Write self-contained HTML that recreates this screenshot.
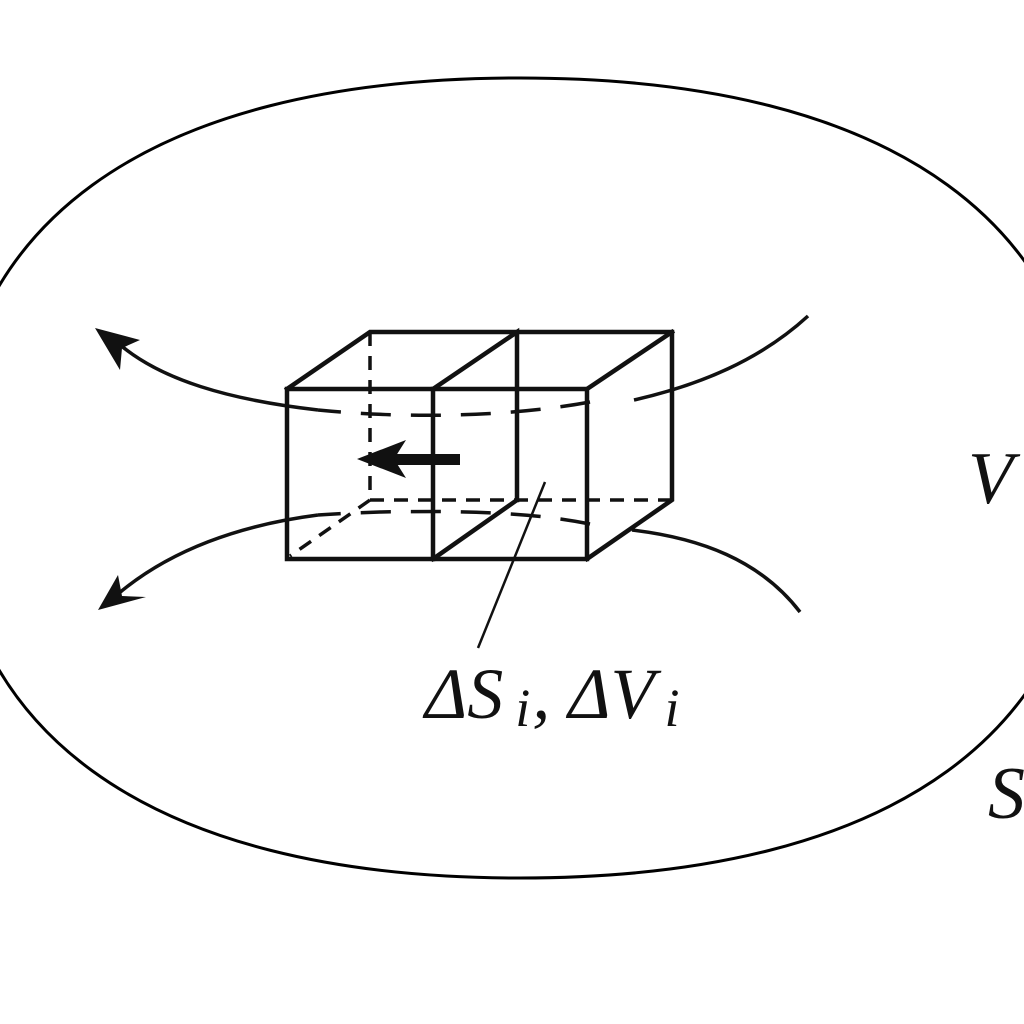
<!DOCTYPE html>
<html><head><meta charset="utf-8"><style>html,body{margin:0;padding:0;background:#fff;overflow:hidden}svg{display:block}</style></head>
<body>
<svg width="1024" height="1024" viewBox="0 0 1024 1024" xmlns="http://www.w3.org/2000/svg">
<rect width="1024" height="1024" fill="#fff"/>
<g fill="none" stroke="#000" stroke-width="3">
<path d="M520,78 C900,78 1090,230 1090,478 C1090,726 900,878 520,878 C140,878 -50,726 -50,478 C-50,230 140,78 520,78 Z"/>
</g>
<g fill="none" stroke="#111" stroke-width="4.5" stroke-linecap="square">
<path d="M287,389 L587,389 L587,559 L287,559 Z"/>
<path d="M287,389 L370,332 L672,332 L672,500 L587,559"/>
<path d="M587,389 L672,332"/>
<path d="M433,389 L433,559"/>
<path d="M433,389 L517,332 L517,500"/>
<path d="M433,559 L517,500"/>
</g>
<g fill="none" stroke="#111" stroke-width="3.5" stroke-dasharray="14,10">
<path d="M370,332 L370,500 L672,500"/>
<path d="M370,500 L290,556"/>
</g>
<g fill="none" stroke="#111" stroke-width="3.5">
<path d="M808,316 C760,360 700,385 634,400"/>
<path d="M318,410 C230,400 160,380 118,343"/>
<path d="M800,612 C760,560 700,538 632,530"/>
<path d="M318,515 C240,525 170,550 118,594"/>
<path d="M590,402 C520,415 420,420 318,410" stroke-dasharray="30,20"/>
<path d="M590,524 C540,514 480,510 380,512 C350,513 335,514 318,515" stroke-dasharray="30,20"/>
<path d="M545,482 L478,648" stroke-width="2.5"/>
</g>
<polygon points="95,328 140,340 122,348 120,370" fill="#111"/>
<polygon points="98,610 118,575 122,596 146,597" fill="#111"/>
<rect x="388" y="454" width="72" height="11" fill="#111"/>
<polygon points="357,459 406,440 394,459 406,478" fill="#111"/>
<g font-family="Liberation Serif, serif" font-style="italic" fill="#111">
<text x="425" y="718" font-size="72">ΔS<tspan font-size="54" dx="12" dy="8">i</tspan><tspan dy="-8" dx="2">, ΔV</tspan><tspan font-size="54" dx="10" dy="8">i</tspan></text>
<text x="968" y="503" font-size="74">V</text>
<text x="988" y="818" font-size="74">S</text>
</g>
</svg>
</body></html>
